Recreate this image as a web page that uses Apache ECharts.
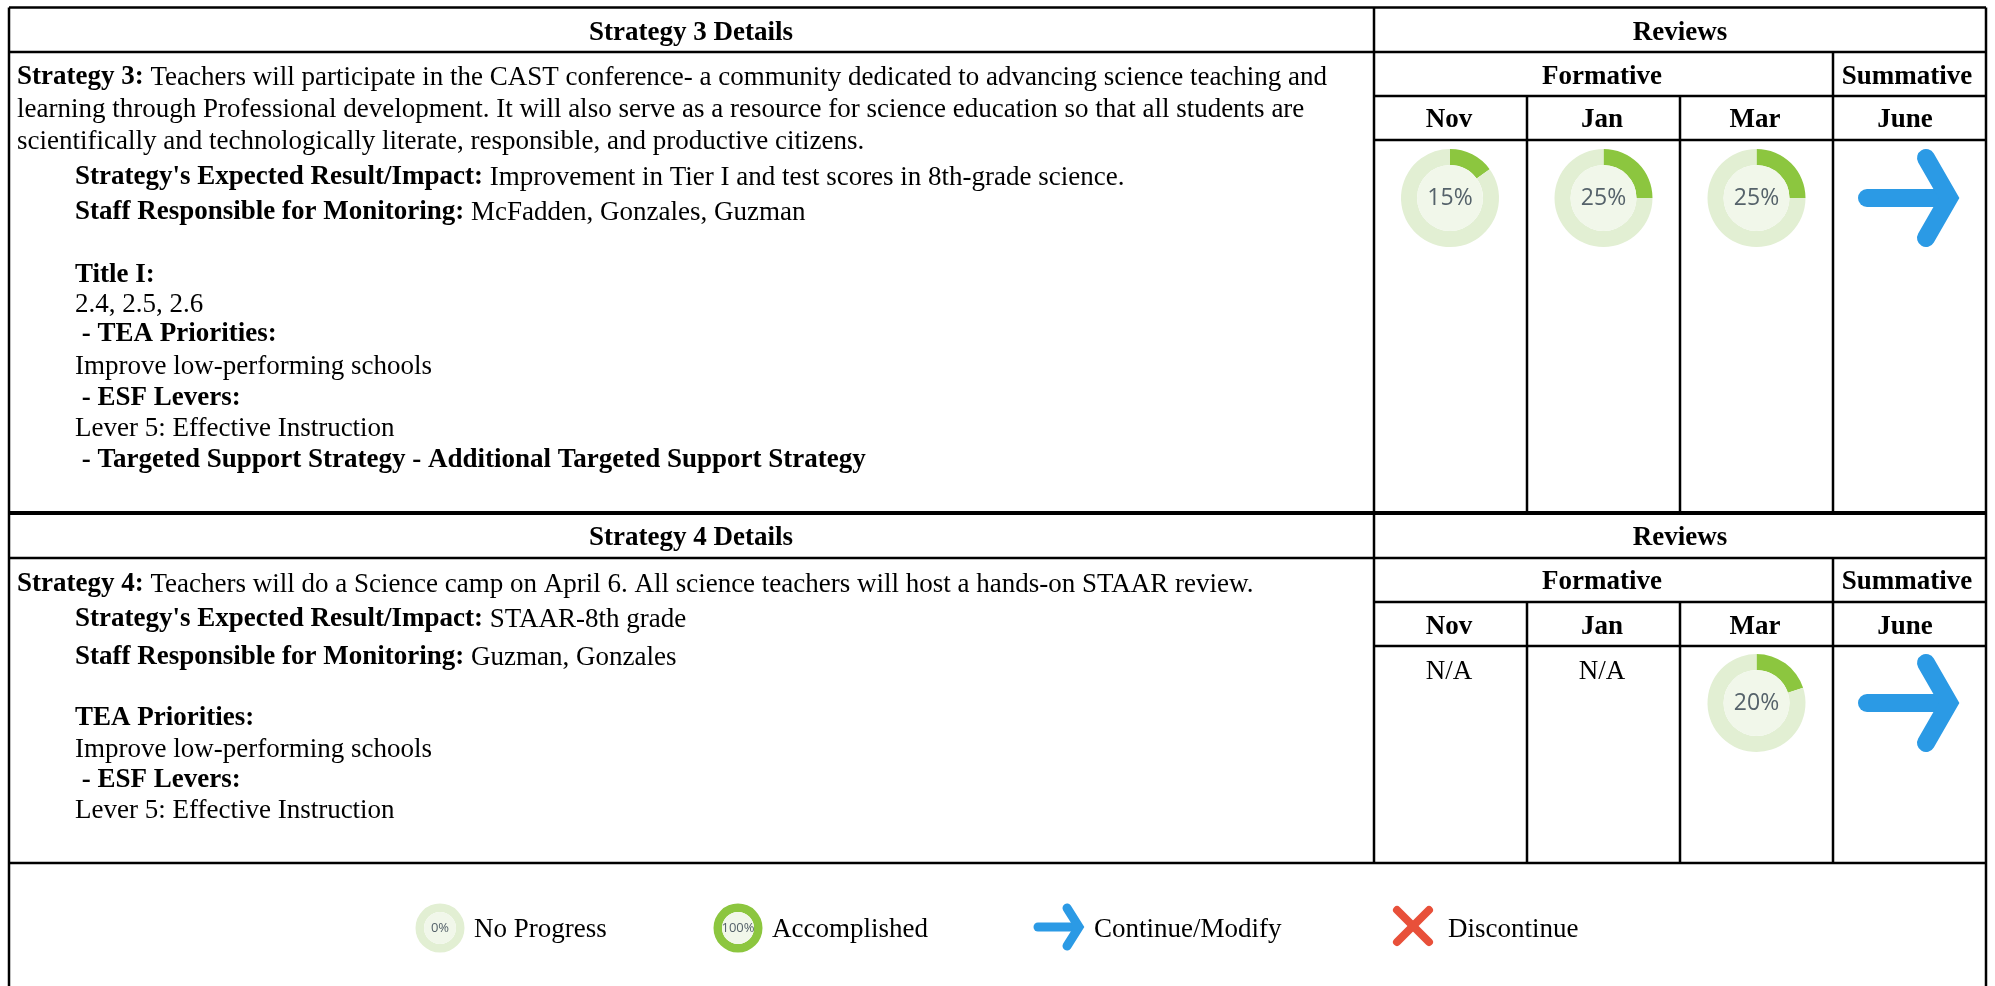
<!DOCTYPE html>
<html>
<head>
<meta charset="utf-8">
<title>Strategy reviews</title>
<style>
  html, body { margin: 0; padding: 0; background: #fff; }
  #chart { width: 1995px; height: 986px; }
</style>
<script src="https://cdn.jsdelivr.net/npm/echarts@6/dist/echarts.min.js"></script>
</head>
<body>
<div id="chart"></div>
<script>
// review percentages, null = N/A
var months = ['Nov', 'Jan', 'Mar', 'June']
var strategy3Progress = [15, 25, 25]
var strategy4Progress = [null, null, 20]
var legendProgress = [0, 100]
var legendLabels = ['No Progress', 'Accomplished', 'Continue/Modify', 'Discontinue']

// text of the left hand cells: [indented, bold part, regular part]
var strategy3Lines = [
  [0, 'Strategy 3:', ' Teachers will participate in the CAST conference- a community dedicated to advancing science teaching and'],
  [0, '', 'learning through Professional development. It will also serve as a resource for science education so that all students are'],
  [0, '', 'scientifically and technologically literate, responsible, and productive citizens.'],
  [1, "Strategy's Expected Result/Impact:", ' Improvement in Tier I and test scores in 8th-grade science.'],
  [1, 'Staff Responsible for Monitoring:', ' McFadden, Gonzales, Guzman'],
  [1, 'Title I:', ''],
  [1, '', '2.4, 2.5, 2.6'],
  [1, ' - TEA Priorities:', ''],
  [1, '', 'Improve low-performing schools'],
  [1, ' - ESF Levers:', ''],
  [1, '', 'Lever 5: Effective Instruction'],
  [1, ' - Targeted Support Strategy - Additional Targeted Support Strategy', '']
]
var strategy4Lines = [
  [0, 'Strategy 4:', ' Teachers will do a Science camp on April 6. All science teachers will host a hands-on STAAR review.'],
  [1, "Strategy's Expected Result/Impact:", ' STAAR-8th grade'],
  [1, 'Staff Responsible for Monitoring:', ' Guzman, Gonzales'],
  [1, 'TEA Priorities:', ''],
  [1, '', 'Improve low-performing schools'],
  [1, ' - ESF Levers:', ''],
  [1, '', 'Lever 5: Effective Instruction']
]

// layout, in page pixels
var colX = [1374, 1527, 1680, 1833, 1986]
var colMid = [1449, 1602, 1755, 1905]
var donutX = [1450, 1603.5, 1756.5]
var summativeX = 1907
var leftX = 9
var textX = [17, 75]
var line3Y = [77.5, 109.5, 141.5, 177.5, 212.5, 275.5, 304.5, 334.5, 366.5, 398.5, 428.5, 460.5]
var line4Y = [584.5, 619.5, 657.5, 718.5, 749.5, 780.5, 810.5]
var block3 = { top: 7.5, head: 33.5, row1: 52, formY: 77, row2: 96, monthY: 120.5, row3: 140, donutY: 198 }
var block4 = { top: 513, head: 538, row1: 558, formY: 582, row2: 602, monthY: 627, row3: 646, donutY: 703 }
var tableBottom = 863

var FONT = '"Liberation Serif", "Times New Roman", serif'
var SIZE = 27
var GREEN = '#8cc63f'
var PALE = '#e2efd3'
var INNER = '#f1f7ea'
var BLUE = '#2b9ae5'
var RED = '#e8503a'

function hLine(x1, x2, y, w) {
  return { type: 'line', shape: { x1: x1, y1: y, x2: x2, y2: y }, style: { stroke: '#000', lineWidth: w || 2.5 } }
}
function vLine(x, y1, y2, w) {
  return { type: 'line', shape: { x1: x, y1: y1, x2: x, y2: y2 }, style: { stroke: '#000', lineWidth: w || 2.5 } }
}
function label(text, x, y, bold, align) {
  return {
    type: 'text',
    style: {
      x: x, y: y, text: text, align: align || 'center', verticalAlign: 'middle',
      fontFamily: FONT, fontSize: SIZE, fontWeight: bold ? 'bold' : 'normal', fill: '#000'
    }
  }
}
function richLine(line, y) {
  var t = ''
  if (line[1]) t += '{b|' + line[1] + '}'
  if (line[2]) t += '{r|' + line[2] + '}'
  return {
    type: 'text',
    style: {
      x: textX[line[0]], y: y, text: t, align: 'left', verticalAlign: 'middle',
      fontFamily: FONT, fontSize: SIZE, fill: '#000',
      rich: {
        b: { fontFamily: FONT, fontSize: SIZE, fontWeight: 'bold', fill: '#000' },
        r: { fontFamily: FONT, fontSize: SIZE, fill: '#000' }
      }
    }
  }
}
// start of shaft, arrow point, x of the arm ends, arm height, stroke
function arrow(x0, tip, armX, cy, dy, w) {
  var style = { stroke: BLUE, lineWidth: w, lineCap: 'round', lineJoin: 'miter', fill: null }
  return [
    { type: 'line', shape: { x1: x0, y1: cy, x2: tip - 2, y2: cy }, style: style },
    { type: 'polyline', shape: { points: [[armX, cy - dy], [tip, cy], [armX, cy + dy]] }, style: style }
  ]
}
function cross(cx, cy, s, w) {
  var style = { stroke: RED, lineWidth: w, lineCap: 'round' }
  return [
    { type: 'line', shape: { x1: cx - s, y1: cy - s, x2: cx + s, y2: cy + s }, style: style },
    { type: 'line', shape: { x1: cx - s, y1: cy + s, x2: cx + s, y2: cy - s }, style: style }
  ]
}

function blockGraphics(b, title) {
  var g = [
    hLine(leftX, colX[4], b.row1),
    hLine(colX[0], colX[4], b.row2),
    hLine(colX[0], colX[4], b.row3),
    vLine(colX[3], b.row1, b.bottom),
    vLine(colX[1], b.row2, b.bottom),
    vLine(colX[2], b.row2, b.bottom),
    label(title, 691, b.head, true),
    label('Reviews', 1680, b.head, true),
    label('Formative', colMid[1], b.formY, true),
    label('Summative', summativeX, b.formY, true)
  ]
  months.forEach(function (m, i) {
    g.push(label(m, colMid[i], b.monthY, true))
  })
  return g
}

// ring plus a filled centre holding the percent text
function donut(value, x, y, outer, inner, fontSize) {
  return [
    {
      type: 'pie', silent: true, animation: false, center: [x, y], radius: [inner, outer],
      startAngle: 90, clockwise: true, stillShowZeroSum: true,
      label: { show: false }, labelLine: { show: false },
      data: [
        { value: value, itemStyle: { color: GREEN } },
        { value: 100 - value, itemStyle: { color: PALE } }
      ]
    },
    {
      type: 'pie', silent: true, animation: false, center: [x, y], radius: [0, inner],
      labelLine: { show: false },
      label: {
        show: true, position: 'center', formatter: value + '%',
        fontFamily: '"Open Sans", sans-serif', fontSize: fontSize, color: '#55626a'
      },
      data: [{ value: 1, itemStyle: { color: INNER } }]
    }
  ]
}

block3.bottom = block4.top
block4.bottom = tableBottom

var graphics = [
  hLine(leftX, colX[4], block3.top),
  vLine(leftX, block3.top, 986),
  vLine(colX[0], block3.top, tableBottom),
  vLine(colX[4], block3.top, 986),
  hLine(leftX, colX[4], block4.top, 4),
  hLine(leftX, colX[4], tableBottom)
]
graphics = graphics.concat(blockGraphics(block3, 'Strategy 3 Details'), blockGraphics(block4, 'Strategy 4 Details'))

strategy3Lines.forEach(function (l, i) { graphics.push(richLine(l, line3Y[i])) })
strategy4Lines.forEach(function (l, i) { graphics.push(richLine(l, line4Y[i])) })

graphics = graphics.concat(arrow(1867, 1949, 1926, block3.donutY, 40, 18), arrow(1867, 1949, 1926, block4.donutY, 40, 18))

// legend row
var legendY = 930
graphics.push(label(legendLabels[0], 474, legendY, false, 'left'))
graphics.push(label(legendLabels[1], 772, legendY, false, 'left'))
graphics.push(label(legendLabels[2], 1094, legendY, false, 'left'))
graphics.push(label(legendLabels[3], 1448, legendY, false, 'left'))
graphics = graphics.concat(arrow(1038, 1079, 1067, 927, 19, 9), cross(1413, 926, 16, 8))

var series = []
strategy3Progress.forEach(function (v, i) {
  series = series.concat(donut(v, donutX[i], block3.donutY, 49, 33, 23))
})
strategy4Progress.forEach(function (v, i) {
  if (v === null) {
    graphics.push(label('N/A', colMid[i], 672, false))
  } else {
    series = series.concat(donut(v, donutX[i], block4.donutY, 49, 33, 23))
  }
})
series = series.concat(donut(legendProgress[0], 440, 928, 24.5, 16, 13))
series = series.concat(donut(legendProgress[1], 738, 928, 24.5, 16, 13))

var chart = echarts.init(document.getElementById('chart'))
chart.setOption({
  backgroundColor: '#fff',
  animation: false,
  graphic: { elements: graphics },
  series: series
})
</script>
</body>
</html>
